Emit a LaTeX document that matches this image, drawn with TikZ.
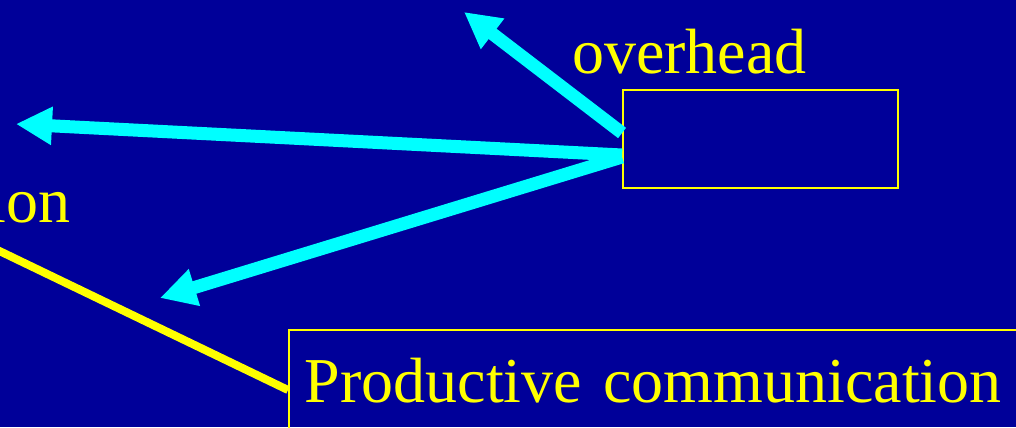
\documentclass[tikz,border=0pt]{standalone}
\usepackage{fontspec}
\setmainfont{Liberation Serif}
\usepackage{xcolor}
\usetikzlibrary{arrows.meta, positioning}

\definecolor{slideblue}{RGB}{0,0,153}
\definecolor{arrowcyan}{RGB}{0,255,255}
\definecolor{textyellow}{RGB}{255,255,0}

\begin{document}
\begin{tikzpicture}[x=0.025cm, y=-0.025cm,
        every node/.style={text=textyellow, font=\fontsize{45.5}{54}\selectfont},
        ybox/.style={draw=textyellow, line width=1.3pt},
        fat/.style={draw=arrowcyan, line width=0.325cm, -{Triangle[length=0.9cm, width=0.9cm]}}]
        \useasboundingbox (0, 0) rectangle (1016, 427);
        \fill[slideblue] (0, 0) rectangle (1016, 427);
        \clip (0, 0) rectangle (1016, 427);

        \node[ybox, minimum width=6.875cm, minimum height=2.45cm] (ovh) at (760.5, 139) {};
        \node[anchor=base west, inner sep=0pt] (ovhlabel) at (572, 73) {overhead};
        \node[anchor=base west, inner sep=0pt] (ion) at (-12, 222) {ion};
        \node[ybox, anchor=base west, inner xsep=0.4cm, inner ysep=0.4cm, text height=1.4cm, text depth=0.5cm,
              text width=18.2cm, align=left] (prod) at (288, 402) {Productive communication};

        \coordinate (up) at (464, 12);
        \coordinate (left) at (16, 124);
        \coordinate (down) at (160, 298);
        \coordinate (from) at (-40, 232);

        \draw[fat] ([yshift=0.15cm]ovh.west) -- (up);
        \draw[fat] ([yshift=-0.4cm]ovh.west) -- (left);
        \draw[fat] ([yshift=-0.45cm]ovh.west) -- (down);
        \draw[textyellow, line width=0.2cm] (from) -- ([yshift=-0.15cm]prod.west);
    \end{tikzpicture}
\end{document}
